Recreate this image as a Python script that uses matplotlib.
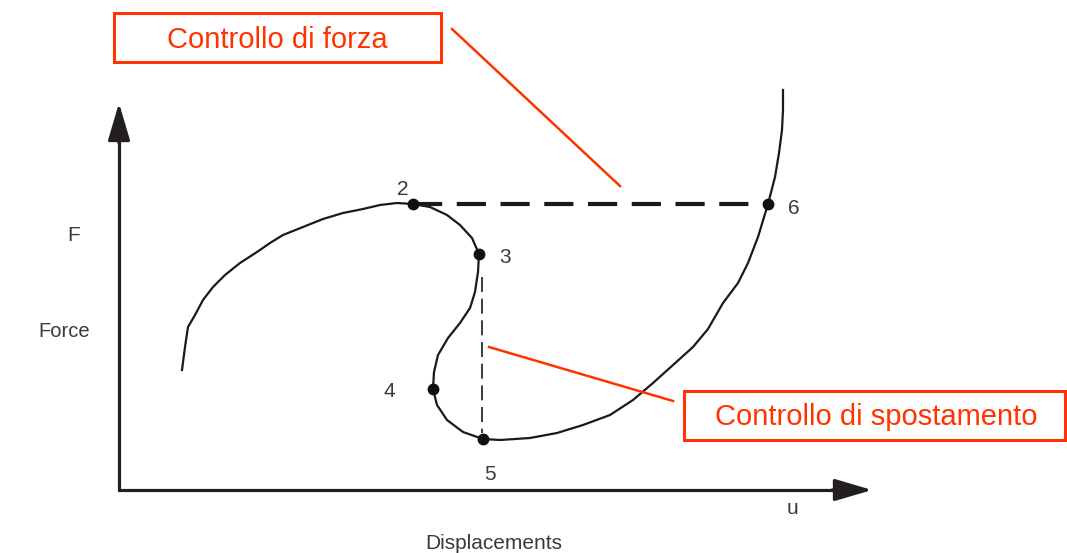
import matplotlib
matplotlib.use("Agg")
import matplotlib.pyplot as plt
from matplotlib.patches import FancyArrowPatch, Rectangle

plt.rcParams['font.family'] = ['Liberation Sans', 'DejaVu Sans']

# ---- data (u = displacement, F = force) ----
curve_u = [63, 66, 69, 76, 84, 94, 106, 121, 138, 151, 164, 184, 204, 224,
           244, 261, 278, 294, 311, 328, 341, 353, 360, 359, 356, 351, 341,
           329, 319, 315, 314, 318, 328, 344, 364, 381, 411, 438, 464, 491,
           514, 534, 554, 574, 589, 604, 619, 629, 639, 649, 656, 660, 663,
           664, 664]
curve_F = [120, 143, 163, 175, 190, 203, 215, 227, 238, 247, 255, 263, 271, 277,
           281, 285, 287, 286, 283, 275, 265, 252, 236, 218, 198, 182, 167,
           152, 135, 118, 101, 85, 70, 58, 51, 50, 52, 57, 65, 75,
           90, 107, 125, 143, 161, 187, 207, 227, 253, 286, 313, 337, 360,
           380, 400]

point_labels = ['2', '3', '4', '5', '6']
point_u = [294, 360, 314, 364, 649]
point_F = [286, 236, 101, 51, 286]
label_u = [284, 386, 270, 371, 675]
label_F = [295, 227, 93, 10, 276]

force_control_F = 286          # horizontal dashed line level (2 -> 6)
disp_control_u = 363           # vertical dashed line position (3 -> 5)
disp_control_F = [213, 57]

u_axis_max = 753
F_axis_max = 387

annot1_text = 'Controllo di forza'
annot2_text = 'Controllo di spostamento'

# ---- figure ----
fig = plt.figure(figsize=(10.67, 5.53), dpi=100)
ax = fig.add_axes([0, 0, 1, 1])
ax.set_xlim(-119, 1067 - 119)
ax.set_ylim(490 - 553, 490)
ax.axis('off')

axis_col = '#231f20'
txt_col = '#3a3a3a'
red = '#ff3300'

# axes with arrows
ax.plot([0, 0, u_axis_max - 20], [F_axis_max - 20, 0, 0], color=axis_col, lw=2.3,
        solid_joinstyle='miter', solid_capstyle='butt', zorder=2)
for start, end in [((0, F_axis_max - 40), (0, F_axis_max)),
                   ((u_axis_max - 40, 0), (u_axis_max, 0))]:
    arr = FancyArrowPatch(start, end, arrowstyle='-|>,head_length=1.15,head_width=0.34',
                          mutation_scale=20, color=axis_col, lw=2.3, zorder=2,
                          shrinkA=0, shrinkB=0)
    ax.add_patch(arr)

# curve
ax.plot(curve_u, curve_F, color='#1a1a1a', lw=1.6, zorder=3,
        solid_joinstyle='round')

# dashed control lines
ax.plot([point_u[0], point_u[4]], [force_control_F, force_control_F],
        color='#1a1a1a', lw=3.0, dashes=(7, 3.5), zorder=2)
ax.plot([disp_control_u, disp_control_u], disp_control_F,
        color='#1a1a1a', lw=1.2, dashes=(9, 4), zorder=2)

# points
ax.plot(point_u, point_F, 'o', color='#111111', ms=7.5, zorder=4)
for lab, x, y in zip(point_labels, label_u, label_F):
    ax.text(x, y, lab, fontsize=15, color=txt_col, ha='center', va='baseline')

# axis labels
ax.text(-45, 249, 'F', fontsize=15, color=txt_col, ha='center', va='baseline')
ax.text(-81, 153, 'Force', fontsize=14.5, color=txt_col, ha='left', va='baseline')
ax.text(674, -24, 'u', fontsize=15, color=txt_col, ha='center', va='baseline')
ax.text(375, -59, 'Displacements', fontsize=15, color=txt_col, ha='center', va='baseline')

# red annotations
ax.add_patch(Rectangle((-5, 428), 327, 49, fill=False, ec=red, lw=2.2, zorder=5))
ax.text(158.5, 442, annot1_text, fontsize=21, color=red, ha='center', va='baseline', zorder=5)
ax.plot([333, 501], [461, 304], color=red, lw=1.8, zorder=5)

ax.add_patch(Rectangle((565, 50), 381, 49, fill=False, ec=red, lw=2.2, zorder=5))
ax.text(757.5, 65, annot2_text, fontsize=21, color=red, ha='center', va='baseline', zorder=5)
ax.plot([370, 554], [143, 89], color=red, lw=1.8, zorder=5)

fig.savefig('out.png', dpi=100)
